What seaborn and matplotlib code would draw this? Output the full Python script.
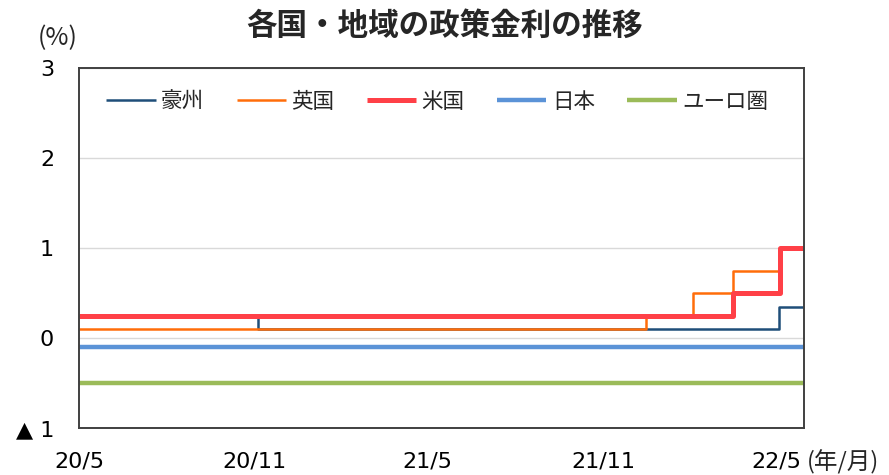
import matplotlib
matplotlib.use("Agg")
import matplotlib.pyplot as plt
import matplotlib.dates as mdates
from matplotlib.ticker import FuncFormatter
import seaborn as sns
import pandas as pd

# ---- data: policy-rate change dates and levels (%) ----
series_names = ["豪州", "英国", "米国", "日本", "ユーロ圏"]
aus_dates = ["2020-05-01", "2020-11-04", "2022-05-04"]
aus_rates = [0.25, 0.10, 0.35]
uk_dates = ["2020-05-01", "2021-12-16", "2022-02-03", "2022-03-17", "2022-05-05"]
uk_rates = [0.10, 0.25, 0.50, 0.75, 1.00]
us_dates = ["2020-05-01", "2022-03-17", "2022-05-05"]
us_rates = [0.25, 0.50, 1.00]
jp_dates = ["2020-05-01"]
jp_rates = [-0.10]
eu_dates = ["2020-05-01"]
eu_rates = [-0.50]
end_date = "2022-05-30"

y_ticks = [-1, 0, 1, 2, 3]
y_tick_labels = ["▲ 1", "0", "1", "2", "3"]

colors = ["#1F4E79", "#FF6D0A", "#FF4047", "#5B93D7", "#9BBB59"]
widths = [1.8, 1.8, 3.6, 3.2, 3.2]

sns.set_theme(style="white")
plt.rcParams["font.family"] = ["DejaVu Sans", "Noto Sans CJK JP"]

fig = plt.figure(figsize=(8.89, 4.75), dpi=100)
ax = fig.add_axes([79 / 889, 1 - 428 / 475, (804 - 79) / 889, (428 - 68) / 475])

all_series = [(aus_dates, aus_rates), (uk_dates, uk_rates), (us_dates, us_rates),
              (jp_dates, jp_rates), (eu_dates, eu_rates)]
for name, (d, r), c, w in zip(series_names, all_series, colors, widths):
    df = pd.DataFrame({"date": pd.to_datetime(d + [end_date]), "rate": r + [r[-1]]})
    sns.lineplot(data=df, x="date", y="rate", ax=ax, color=c, linewidth=w,
                 drawstyle="steps-post", label=name, estimator=None,
                 solid_capstyle="butt")

ax.set_xlim(pd.Timestamp("2020-05-01"), pd.Timestamp(end_date))
ax.set_ylim(-1, 3)
ax.set_yticks(y_ticks)
ax.set_yticklabels(y_tick_labels)
ax.xaxis.set_major_locator(mdates.MonthLocator(bymonth=[5, 11]))
ax.xaxis.set_major_formatter(FuncFormatter(
    lambda v, p: f"{mdates.num2date(v).year % 100}/{mdates.num2date(v).month}"))
ax.set_xlabel("")
ax.set_ylabel("")

ax.set_axisbelow(True)
ax.yaxis.grid(True, color="#d9d9d9", linewidth=1)
ax.xaxis.grid(False)
for s in ax.spines.values():
    s.set_color("#404040")
    s.set_linewidth(1.4)
ax.tick_params(axis="both", direction="in", length=6, width=1.2, color="#404040",
               labelsize=16, labelcolor="#000000")
ax.tick_params(axis="x", pad=17)
ax.tick_params(axis="y", pad=18)

leg = ax.legend(loc="center", bbox_to_anchor=(0.494, 0.906), ncol=5, frameon=False,
                handlelength=2.3, handletextpad=0.25, columnspacing=1.5,
                prop={"family": ["Noto Sans CJK JP"], "size": 15.5})

fig.text(0.5, 1 - 26 / 475, "各国・地域の政策金利の推移", ha="center", va="center",
         fontsize=22, fontweight="bold", family=["Noto Sans CJK JP"])
fig.text(58 / 889, 1 - 38 / 475, "(%)", ha="center", va="center", fontsize=18,
         family=["Noto Sans CJK JP"])
fig.text(807 / 889, 1 - 462 / 475, "(年/月)", ha="left", va="center", fontsize=17,
         family=["Noto Sans CJK JP"])

fig.savefig("out.png", dpi=100, facecolor="white")
